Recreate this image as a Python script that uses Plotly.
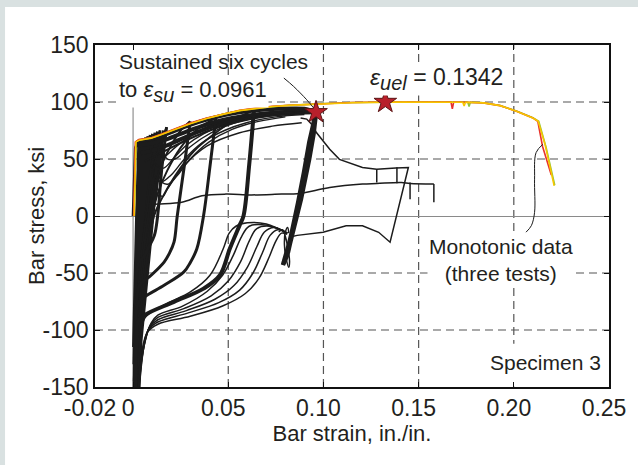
import plotly.graph_objects as go

# ---------------- monotonic tests (three) ----------------
red_strain = [0.0003, 0.0012, 0.0030, 0.0060, 0.0095, 0.0150, 0.0215, 0.0300, 0.0387, 0.0480, 0.0560, 0.0650,
              0.0731, 0.0820, 0.0920, 0.1000, 0.1150, 0.1340, 0.1500, 0.1580, 0.1670, 0.1677, 0.1684, 0.1750,
              0.1840, 0.1928, 0.2014, 0.2100, 0.2126, 0.2151, 0.2175, 0.2197]
red_stress = [0, 65, 67, 68, 68.7, 72, 76, 81.5, 86, 90, 92.8, 94.8, 96.3, 97.2, 98, 98.8, 99.5, 100, 100, 100,
              100, 94, 100, 99.8, 99.2, 96.8, 91.9, 86, 83, 61, 47, 36]
yellow_strain = [0.0006, 0.0015, 0.0032, 0.0062, 0.0095, 0.0150, 0.0215, 0.0300, 0.0387, 0.0480, 0.0560, 0.0650,
                 0.0731, 0.0820, 0.0920, 0.1000, 0.1150, 0.1340, 0.1500, 0.1580, 0.1732, 0.1739, 0.1746, 0.1840,
                 0.1928, 0.2014, 0.2100, 0.2128, 0.2165, 0.2212]
yellow_stress = [0, 65, 66.5, 67.5, 68.3, 71.5, 75.5, 81, 85.5, 89.6, 92.4, 94.5, 96, 97, 97.8, 98.6, 99.4, 99.9,
                 100, 100, 99.8, 96.5, 99.8, 99.2, 96.8, 91.9, 86, 83, 62, 26.5]
green_strain = [0.0005, 0.0014, 0.0031, 0.0061, 0.0095, 0.0150, 0.0215, 0.0300, 0.0387, 0.0480, 0.0560, 0.0650,
                0.0731, 0.0820, 0.0920, 0.1000, 0.1150, 0.1340, 0.1500, 0.1580, 0.1758, 0.1765, 0.1772, 0.1840,
                0.1928, 0.2014, 0.2100, 0.2131, 0.2170, 0.2215]
green_stress = [0, 65, 66.8, 67.8, 68.5, 71.8, 75.8, 81.2, 85.8, 89.8, 92.6, 94.6, 96.1, 97.1, 97.9, 98.7, 99.5,
                100, 100, 100, 99.9, 96, 99.9, 99.3, 97, 92.1, 86.3, 83, 60, 27]

# ---------------- cyclic test, specimen 3 ----------------
small_cycles_strain = [0.0000, 0.0012, 0.0030, 0.0018, 0.0004, 0.0002, 0.0010, 0.0022, 0.0032, 0.0042, 0.0030,
                       0.0010, 0.0004, 0.0012, 0.0028, 0.0042, 0.0054, 0.0040, 0.0016, 0.0006, 0.0016, 0.0034,
                       0.0050, 0.0066, 0.0050, 0.0020, 0.0008, 0.0018, 0.0040, 0.0058, 0.0078, 0.0060, 0.0024,
                       0.0012, 0.0022, 0.0046, 0.0066, 0.0090, 0.0068, 0.0028, 0.0016, 0.0026, 0.0052, 0.0074,
                       0.0102, 0.0078, 0.0032, 0.0020, 0.0030, 0.0058, 0.0082, 0.0115, 0.0088, 0.0036, 0.0024,
                       0.0034, 0.0064, 0.0090, 0.0128, 0.0096, 0.0040, 0.0028, 0.0036, 0.0070, 0.0098, 0.0142,
                       0.0105, 0.0042, 0.0030]
small_cycles_stress = [0, 60, 66, 0, -100, -115, -60, 0, 50, 67, 0, -90, -130, -70, 0, 50, 68, 0, -90, -145, -80,
                       0, 50, 69, 0, -100, -160, -90, 0, 50, 70, 0, -110, -160, -100, 0, 50, 71, 0, -110, -160,
                       -100, 0, 50, 72, 0, -110, -160, -100, 0, 50, 73, 0, -110, -160, -100, 0, 50, 74, 0, -110,
                       -160, -100, 0, 50, 75, 0, -110, -160]
small_cycles2_strain = [0.0030, 0.0050, 0.0078, 0.0103, 0.0125, 0.0110, 0.0082, 0.0052, 0.0032,
                        0.0052, 0.0085, 0.0110, 0.0135, 0.0118, 0.0090, 0.0056, 0.0034,
                        0.0056, 0.0092, 0.0118, 0.0148, 0.0128, 0.0096, 0.0060, 0.0036,
                        0.0060, 0.0098, 0.0126, 0.0160, 0.0138, 0.0102, 0.0064, 0.0038]
small_cycles2_stress = [-120, -30, 20, 50, 70, 40, 0, -50, -110,
                        -30, 20, 50, 71, 40, 0, -50, -110,
                        -30, 20, 50, 73, 40, 0, -50, -110,
                        -30, 20, 50, 75, 40, 0, -50, -110]

band1_strain = [0.0025, 0.0060, 0.0100, 0.0150, 0.0215, 0.0300, 0.0387, 0.0480, 0.0560, 0.0650, 0.0731, 0.0820,
                0.0900, 0.0961]
band1_stress = [65, 66.5, 68, 70.5, 74.5, 80, 84.5, 88.5, 91, 92.8, 93.8, 94.3, 94, 91]
band2_strain = [0.0030, 0.0070, 0.0120, 0.0180, 0.0250, 0.0330, 0.0420, 0.0520, 0.0620, 0.0720, 0.0820, 0.0920,
                0.0961]
band2_stress = [62, 63, 64.5, 67.5, 72, 77, 82, 86, 88.5, 90.3, 91.5, 92, 91]
band3_strain = [0.0040, 0.0090, 0.0150, 0.0220, 0.0300, 0.0400, 0.0500, 0.0600, 0.0700, 0.0800, 0.0900, 0.0961]
band3_stress = [55, 57, 60, 65, 71, 77.5, 82.5, 86, 88.5, 90, 90.8, 91]
band4_strain = [0.0060, 0.0120, 0.0200, 0.0300, 0.0400, 0.0500, 0.0600, 0.0700, 0.0800, 0.0900]
band4_stress = [48, 53, 60, 68, 75, 80.5, 84.5, 87.5, 89.5, 90.5]

reload_a_strain = [0.0005, 0.0015, 0.0040, 0.0070, 0.0100, 0.0140, 0.0176]
reload_a_stress = [-150, -100, -40, 0, 35, 62, 78]
reload_b_strain = [0.0008, 0.0020, 0.0050, 0.0080, 0.0110, 0.0150, 0.0200, 0.0250, 0.0300]
reload_b_stress = [-160, -100, -40, 0, 25, 45, 62, 75, 83]
reload_c_strain = [0.0010, 0.0025, 0.0060, 0.0100, 0.0130, 0.0180, 0.0250, 0.0330, 0.0435]
reload_c_stress = [-160, -100, -40, 0, 20, 40, 60, 75, 86]
reload_d_strain = [0.0012, 0.0030, 0.0070, 0.0110, 0.0150, 0.0220, 0.0320, 0.0450, 0.0550, 0.0635]
reload_d_stress = [-160, -100, -40, 0, 15, 35, 57, 75, 86, 93]

unload_a_strain = [0.0176, 0.0150, 0.0129, 0.0112, 0.0080, 0.0060, 0.0025, 0.0012, 0.0008, 0.0005]
unload_a_stress = [78, 40, 0, -17, -28, -34.6, -43, -80, -120, -160]
unload_b_strain = [0.0300, 0.0270, 0.0232, 0.0215, 0.0190, 0.0163, 0.0095, 0.0034, 0.0015, 0.0010, 0.0008]
unload_b_stress = [83, 45, 0, -23, -33, -40.4, -52, -61, -90, -130, -160]
unload_c_strain = [0.0435, 0.0405, 0.0370, 0.0335, 0.0300, 0.0267, 0.0163, 0.0060, 0.0025, 0.0015, 0.0012]
unload_c_stress = [86, 45, 0, -28.8, -41, -49, -60.8, -71, -77, -110, -160]
unload_d_strain = [0.0635, 0.0610, 0.0580, 0.0560, 0.0508, 0.0456, 0.0370, 0.0215, 0.0060, 0.0025, 0.0015, 0.0012]
unload_d_stress = [93, 45, 0, -8, -28.8, -52, -63.7, -75.3, -87, -93, -120, -160]

bowl1_strain = [0.0105, 0.0125, 0.0155, 0.0180, 0.0267, 0.0387, 0.0560, 0.0731, 0.0886]
bowl1_stress = [45, 25, 17, 23.6, 43.9, 61.3, 73, 78.8, 81.8]
bowl2_strain = [0.0090, 0.0115, 0.0150, 0.0200, 0.0270, 0.0360, 0.0480, 0.0600, 0.0750, 0.0900]
bowl2_stress = [50, 35, 30, 36, 50, 64, 75, 82, 87, 89]
bowl3_strain = [0.0090, 0.0120, 0.0160, 0.0210, 0.0280, 0.0370, 0.0480, 0.0600, 0.0750, 0.0900]
bowl3_stress = [60, 45, 42, 50, 62, 72, 80, 86, 90, 91.5]
bowl4_strain = [0.0120, 0.0160, 0.0220, 0.0300, 0.0400, 0.0520, 0.0650, 0.0800, 0.0940]
bowl4_stress = [55, 52, 60, 70, 79, 85, 89, 92, 93]
bowl5_strain = [0.0130, 0.0150, 0.0185, 0.0230, 0.0300, 0.0400, 0.0520, 0.0660, 0.0800]
bowl5_stress = [40, 30, 28, 35, 50, 65, 76, 83, 87]
bowl6_strain = [0.0150, 0.0180, 0.0220, 0.0280, 0.0360, 0.0460, 0.0580, 0.0720, 0.0860]
bowl6_stress = [60, 50, 50, 58, 68, 77, 84, 88, 90]

thin1_strain = [0.0022, 0.0030, 0.0045, 0.0075, 0.0130, 0.0300, 0.0470, 0.0590, 0.0660, 0.0715, 0.0750, 0.0780, 0.0810]
thin1_stress = [-160, -140, -120, -102, -95, -88, -79, -68, -55, -36, -22, -15, -16]
thin2_strain = [0.0022, 0.0032, 0.0050, 0.0080, 0.0130, 0.0290, 0.0450, 0.0560, 0.0630, 0.0680, 0.0720, 0.0760, 0.0810]
thin2_stress = [-160, -140, -118, -100, -93, -85, -76, -65, -50, -32, -17, -12, -15]
thin3_strain = [0.0024, 0.0034, 0.0055, 0.0085, 0.0130, 0.0280, 0.0430, 0.0530, 0.0600, 0.0650, 0.0690, 0.0740, 0.0810]
thin3_stress = [-160, -140, -116, -98, -91, -83, -73, -61, -45, -27, -14, -10, -15]
thin4_strain = [0.0024, 0.0036, 0.0058, 0.0090, 0.0130, 0.0270, 0.0410, 0.0500, 0.0565, 0.0610, 0.0650, 0.0720, 0.0810]
thin4_stress = [-160, -140, -114, -96, -89, -81, -70, -57, -40, -22, -11, -9, -15]
thin5_strain = [0.0026, 0.0038, 0.0060, 0.0095, 0.0130, 0.0260, 0.0390, 0.0470, 0.0525, 0.0570, 0.0610, 0.0700, 0.0810]
thin5_stress = [-160, -140, -112, -94, -87, -79, -66, -52, -35, -18, -9, -8, -15]
thin6_strain = [0.0026, 0.0040, 0.0060, 0.0163, 0.0301, 0.0404, 0.0473, 0.0505, 0.0540, 0.0600, 0.0700, 0.0810]
thin6_stress = [-160, -120, -90, -78, -66.6, -52, -29, -15, -9, -6, -7, -15]

six_cycles_strain = [0.0792, 0.0814, 0.0845, 0.0887, 0.0929, 0.0950, 0.0961, 0.0948, 0.0925, 0.0882, 0.0840,
                     0.0808, 0.0790, 0.0812, 0.0843, 0.0885, 0.0927, 0.0955, 0.0958, 0.0945, 0.0921, 0.0878,
                     0.0836, 0.0805, 0.0787, 0.0810, 0.0841, 0.0884, 0.0926, 0.0953, 0.0960, 0.0943, 0.0918,
                     0.0875, 0.0833, 0.0803]
six_cycles_stress = [-40, -31.7, -8.5, 26.5, 67, 85, 91, 72, 50, 15, -15, -35, -42, -32, -9, 26, 66, 86, 90, 72,
                     50, 15, -15, -35, -43, -33, -10, 25, 65, 85, 90, 73, 50, 15, -15, -36]
swirl_strain = [0.0765, 0.0785, 0.0800, 0.0815, 0.0822, 0.0818, 0.0805, 0.0795, 0.0800, 0.0812, 0.0818]
swirl_stress = [-14, -12, -18, -30, -40, -45, -38, -25, -14, -10, -15]

post_strain = [0.0880, 0.0912, 0.0940, 0.0964, 0.1033, 0.1084, 0.1205, 0.1280, 0.1380, 0.1429, 0.1446, 0.1350,
               0.1290, 0.1205, 0.1119, 0.0998, 0.0862, 0.0825]
post_stress = [86, 85, 80, 73, 58.5, 49.7, 42.5, 41, 42, 42.5, 42.5, -23, -14.3, -8.5, -8.5, -14.3, -17, -18.5]
drop1_strain = [0.1280, 0.1280]
drop1_stress = [41, 29.4]
drop2_strain = [0.1386, 0.1386]
drop2_stress = [42.8, 28.8]
final_strain = [0.0105, 0.0130, 0.0256, 0.0362, 0.0488, 0.0620, 0.0780, 0.0862, 0.0990, 0.1033, 0.1205, 0.1280,
                0.1410, 0.1455, 0.1580]
final_stress = [10, 10.5, 12, 17.7, 19.2, 18.5, 19.2, 19.5, 23.6, 25, 28, 28.5, 29.4, 28.5, 28]
drop3_strain = [0.1455, 0.1455]
drop3_stress = [29.4, 14.8]
drop4_strain = [0.1580, 0.1580]
drop4_stress = [28, 12]

star_strain = [0.0961, 0.1325]
star_stress = [91, 100]

ref_line_strain = [0, 0]
ref_line_stress = [-150, 98]

lead1_strain = [0.0792, 0.0843, 0.0912, 0.0955]
lead1_stress = [121, 113.7, 102, 93.4]
lead2_strain = [0.2152, 0.2117, 0.2109, 0.2109, 0.2092, 0.2064]
lead2_stress = [62.8, 55.6, 32.3, 3.2, -8.5, -14.2]

x_ticks = [-0.02, 0, 0.05, 0.10, 0.15, 0.20, 0.25]
x_tick_text = ["-0.02", "0", "0.05", "0.10", "0.15", "0.20", "0.25"]
y_ticks = [-150, -100, -50, 0, 50, 100, 150]
y_tick_text = ["-150", "-100", "-50", "0", "50", "100", "150"]
x_grid = [0.05, 0.10, 0.15, 0.20]
y_grid = [-100, -50, 50, 100]

FONT = "Liberation Sans, Arial, Helvetica, sans-serif"
TXT = "#231f20"
BLK = "#1c1c1c"

fig = go.Figure()

def add(xs, ys, width, color=BLK, shape="spline"):
    fig.add_trace(go.Scatter(x=xs, y=ys, mode="lines", line=dict(color=color, width=width, shape=shape),
                             hoverinfo="skip", showlegend=False))

add(ref_line_strain, ref_line_stress, 1, "#7a7a7a", "linear")
add(small_cycles_strain, small_cycles_stress, 2.8, shape="linear")
add(small_cycles2_strain, small_cycles2_stress, 2.6, shape="linear")
for xs, ys in [(band1_strain, band1_stress), (band2_strain, band2_stress), (band3_strain, band3_stress)]:
    add(xs, ys, 4)
add(band4_strain, band4_stress, 2)
for xs, ys in [(reload_a_strain, reload_a_stress), (reload_b_strain, reload_b_stress),
               (reload_c_strain, reload_c_stress), (reload_d_strain, reload_d_stress)]:
    add(xs, ys, 2)
for xs, ys in [(unload_a_strain, unload_a_stress), (unload_b_strain, unload_b_stress),
               (unload_c_strain, unload_c_stress)]:
    add(xs, ys, 3)
add(unload_d_strain, unload_d_stress, 4)
for xs, ys in [(bowl1_strain, bowl1_stress), (bowl2_strain, bowl2_stress), (bowl3_strain, bowl3_stress),
               (bowl4_strain, bowl4_stress), (bowl5_strain, bowl5_stress), (bowl6_strain, bowl6_stress)]:
    add(xs, ys, 1.4)
for xs, ys in [(thin1_strain, thin1_stress), (thin2_strain, thin2_stress), (thin3_strain, thin3_stress),
               (thin4_strain, thin4_stress), (thin5_strain, thin5_stress), (thin6_strain, thin6_stress)]:
    add(xs, ys, 1.5)
add(six_cycles_strain, six_cycles_stress, 4.5, shape="linear")
add(swirl_strain, swirl_stress, 1.5)
add(post_strain, post_stress, 1.5, shape="linear")
for xs, ys in [(drop1_strain, drop1_stress), (drop2_strain, drop2_stress), (drop3_strain, drop3_stress),
               (drop4_strain, drop4_stress)]:
    add(xs, ys, 1.5, shape="linear")
add(final_strain, final_stress, 1.5)

add(green_strain, green_stress, 1.6, "#8dc63f", "linear")
add(red_strain, red_stress, 1.6, "#e8322b", "linear")
add(yellow_strain, yellow_stress, 1.6, "#f7c600", "linear")

add(lead1_strain, lead1_stress, 1, BLK)
add(lead2_strain, lead2_stress, 1, BLK)

fig.add_trace(go.Scatter(x=star_strain, y=star_stress, mode="markers",
                         marker=dict(symbol="star", size=17, color="#b8202b",
                                     line=dict(color="#5a1414", width=1)),
                         hoverinfo="skip", showlegend=False))

shapes = [dict(type="rect", xref="paper", yref="paper", x0=-0.175, x1=1.1, y0=-0.3, y1=1.111,
               fillcolor="white", line=dict(width=0), layer="below")]
for gx in x_grid:
    shapes.append(dict(type="line", xref="x", yref="y", x0=gx, x1=gx, y0=-150, y1=150, layer="below",
                       line=dict(color="#555555", width=1.2, dash="8px,5px")))
for gy in y_grid:
    shapes.append(dict(type="line", xref="x", yref="y", x0=-0.02, x1=0.25, y0=gy, y1=gy, layer="below",
                       line=dict(color="#555555", width=1.2, dash="8px,5px")))
shapes.append(dict(type="rect", xref="x", yref="y", x0=0.187, x1=0.2495, y0=-149.5, y1=-112,
                   fillcolor="white", line=dict(width=0), layer="below"))

SUB = '<span style="font-size:20px">'
annotations = [
    dict(x=-0.0085, y=135.5, xref="x", yref="y", xanchor="left", yanchor="middle", align="left",
         text="Sustained six cycles", showarrow=False, font=dict(size=21, color=TXT, family=FONT)),
    dict(x=-0.0085, y=109, xref="x", yref="y", xanchor="left", yanchor="middle", align="left",
         text="to <i>ε</i><sub>" + SUB + "<i>su</i></span></sub> = 0.0961", showarrow=False, bgcolor="white",
         font=dict(size=22, color=TXT, family=FONT)),
    dict(x=0.1232, y=120, xref="x", yref="y", xanchor="left", yanchor="middle",
         text="<i>ε</i><sub>" + SUB + "<i>uel</i></span></sub> = 0.1342", showarrow=False, bgcolor="white",
         font=dict(size=23, color=TXT, family=FONT)),
    dict(x=0.1935, y=-38.5, xref="x", yref="y", xanchor="center", yanchor="middle", align="center",
         text="Monotonic data<br>(three tests)", showarrow=False, bgcolor="white",
         font=dict(size=21, color=TXT, family=FONT)),
    dict(x=0.2165, y=-128.5, xref="x", yref="y", xanchor="center", yanchor="middle",
         text="Specimen 3", showarrow=False, bgcolor="white",
         font=dict(size=21, color=TXT, family=FONT)),
    dict(x=-0.115, y=0.5, xref="paper", yref="paper", xanchor="center", yanchor="middle", textangle=-90,
         text="Bar stress, ksi", showarrow=False, font=dict(size=22, color=TXT, family=FONT)),
]

fig.update_layout(
    width=638, height=465,
    margin=dict(l=95, r=21, t=45, b=78),
    paper_bgcolor="#d9e1e1", plot_bgcolor="white",
    shapes=shapes, annotations=annotations,
    font=dict(family=FONT, color=TXT, size=22),
    xaxis=dict(range=[-0.02, 0.25], tickvals=x_ticks, ticktext=x_tick_text, showgrid=False, zeroline=False,
               showline=True, linecolor="#111", linewidth=1.6, mirror="ticks", ticks="inside", ticklen=5,
               tickwidth=1.4, tickcolor="#111", ticklabelshift=-5, tickfont=dict(size=23, color=TXT),
               title=dict(text="Bar strain, in./in.", font=dict(size=22, color=TXT), standoff=5)),
    yaxis=dict(range=[-150, 150], tickvals=y_ticks, ticktext=y_tick_text, showgrid=False, zeroline=True,
               zerolinecolor="#8a8a8a", zerolinewidth=1, showline=True, linecolor="#111", linewidth=1.6,
               mirror="ticks", ticks="inside", ticklen=5, tickwidth=1.4, tickcolor="#111",
               tickfont=dict(size=23, color=TXT)),
)

fig.write_html("out.html")
